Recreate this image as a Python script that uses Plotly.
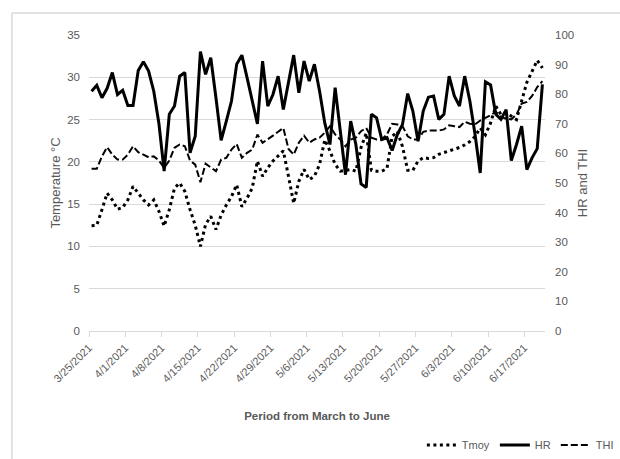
import pandas as pd
import plotly.graph_objects as go

# Daily series, 25 March to 20 June 2021
start_date = "2021-03-25"
n_days = 88

tmoy = [12.45, 12.5, 14.35, 16.3, 15.5, 14.4, 14.6, 15.5, 17.1, 16.3,
        15.5, 14.9, 15.5, 14.15, 12.4, 14.35, 16.9, 17.5, 16.5, 14.35,
        12.5, 10.0, 12.6, 13.55, 12.0, 13.7, 14.9, 15.9, 17.3, 14.7,
        15.7, 16.9, 20.1, 18.3, 19.3, 20.1, 20.7, 21.3, 18.3, 15.1,
        17.7, 19.1, 17.9, 18.3, 19.7, 22.6, 21.3, 19.7, 18.9, 19.0,
        19.1, 18.9, 21.7, 23.4, 19.0, 18.9, 18.9, 19.2, 23.0, 23.6,
        21.8, 19.0, 19.0, 20.1, 20.5, 20.4, 20.5, 20.9, 21.1, 21.3,
        21.5, 21.7, 22.0, 22.4, 23.0, 24.0, 23.2, 24.6, 26.6, 25.6,
        25.8, 25.4, 25.0, 27.2, 29.4, 30.7, 32.0, 31.1]

hr = [81.0, 83.0, 78.8, 82.0, 87.3, 79.9, 81.3, 76.2, 76.2, 88.0,
      91.0, 87.8, 81.0, 70.0, 54.0, 73.2, 76.0, 86.1, 87.3, 60.2,
      65.8, 94.4, 86.7, 92.3, 78.8, 64.4, 70.9, 77.7, 90.1, 93.2,
      85.6, 77.7, 70.0, 91.2, 76.0, 79.9, 86.1, 74.8, 83.9, 93.2,
      80.5, 91.2, 84.4, 90.1, 81.0, 70.3, 63.0, 82.2, 67.5, 52.8,
      70.9, 63.0, 49.7, 48.5, 73.2, 72.0, 64.7, 65.3, 61.0, 66.4,
      69.8, 80.2, 74.3, 64.1, 74.3, 79.0, 79.4, 71.5, 73.2, 86.1,
      79.4, 76.0, 86.1, 77.7, 66.4, 53.4, 84.2, 83.1, 73.2, 71.5,
      74.8, 57.6, 63.0, 69.2, 54.5, 58.5, 61.6, 83.3]

thi = [54.8, 54.8, 59.0, 62.1, 59.6, 57.9, 57.9, 59.6, 62.4, 60.4,
       59.6, 58.7, 59.0, 57.6, 55.1, 57.6, 61.9, 63.0, 62.4, 57.6,
       56.2, 50.3, 56.5, 55.3, 54.0, 57.9, 58.5, 61.3, 63.2, 58.5,
       60.2, 61.3, 66.4, 63.6, 64.7, 66.0, 67.3, 68.6, 61.5, 59.6,
       63.6, 66.0, 63.6, 64.7, 65.3, 67.0, 69.2, 66.4, 64.7, 62.4,
       64.7, 65.3, 67.5, 68.6, 65.3, 64.7, 64.7, 66.4, 70.0, 69.8,
       69.2, 65.8, 64.7, 64.7, 67.3, 67.7, 67.7, 67.7, 68.1, 69.5,
       69.2, 68.9, 70.7, 70.0, 69.8, 71.1, 72.0, 72.9, 74.1, 72.3,
       71.7, 71.5, 73.2, 76.8, 77.4, 79.4, 82.4, 84.4]

# Weekly date ticks
tick_dates = pd.date_range(start_date, "2021-06-17", freq="7D")
tick_labels = [f"{d.month}/{d.day}/{d.year}" for d in tick_dates]

days = pd.date_range(start_date, periods=n_days, freq="D")
x_mid = days + pd.Timedelta(hours=12)   # each daily value sits mid-day
x_range = [days[0], days[-1] + pd.Timedelta(days=1)]

GRAY_TXT = "#595959"
GRID = "#d9d9d9"
FONT = "Liberation Sans, Arial, sans-serif"

fig = go.Figure()
fig.add_trace(go.Scatter(x=x_mid, y=tmoy, name="Tmoy", mode="lines",
                         line=dict(color="black", width=3, dash="3px,3.5px")))
fig.add_trace(go.Scatter(x=x_mid, y=hr, name="HR", mode="lines", yaxis="y2",
                         line=dict(color="black", width=3)))
fig.add_trace(go.Scatter(x=x_mid, y=thi, name="THI", mode="lines", yaxis="y2",
                         line=dict(color="black", width=2, dash="7px,3px")))

fig.update_layout(
    width=620, height=459,
    margin=dict(l=89, r=75, t=35, b=128, autoexpand=False),
    paper_bgcolor="white", plot_bgcolor="white",
    font=dict(family=FONT, size=11, color=GRAY_TXT),
    showlegend=True,
    legend=dict(orientation="h", x=1.162, xanchor="right", y=-0.385, yanchor="middle",
                font=dict(size=11, color=GRAY_TXT), bgcolor="rgba(0,0,0,0)",
                itemwidth=30),
    xaxis=dict(
        type="date", range=x_range,
        tickmode="array", tickvals=tick_dates, ticktext=tick_labels,
        tickangle=-45, ticks="outside", ticklen=5, tickcolor=GRID,
        showgrid=False, showline=True, linecolor=GRID, linewidth=1,
        zeroline=False, tickfont=dict(size=11, color=GRAY_TXT),
        title=dict(text="<b>Period from March to June</b>", standoff=28,
                   font=dict(size=11.5, color=GRAY_TXT)),
    ),
    yaxis=dict(
        range=[0, 35], dtick=5, showgrid=True, gridcolor=GRID, gridwidth=1,
        zeroline=False, showline=False, ticks="",
        ticklabelstandoff=8, tickfont=dict(size=11.5, color=GRAY_TXT),
        title=dict(text="Temperature °C", standoff=3,
                   font=dict(size=13, color=GRAY_TXT)),
    ),
    yaxis2=dict(
        range=[0, 100], dtick=10, overlaying="y", side="right",
        showgrid=False, zeroline=False, showline=False, ticks="",
        ticklabelstandoff=9, tickfont=dict(size=11.5, color=GRAY_TXT),
        title=dict(text="HR and THI", standoff=4,
                   font=dict(size=13, color=GRAY_TXT)),
    ),
)

# Chart-area frame
fig.add_shape(type="line", xref="paper", yref="paper",
              x0=-0.169, y0=1.074, x1=1.2, y1=1.074, line=dict(color=GRID, width=1.5))
fig.add_shape(type="line", xref="paper", yref="paper",
              x0=-0.169, y0=1.074, x1=-0.169, y1=-0.5, line=dict(color=GRID, width=1.5))

fig.write_html("out.html")
